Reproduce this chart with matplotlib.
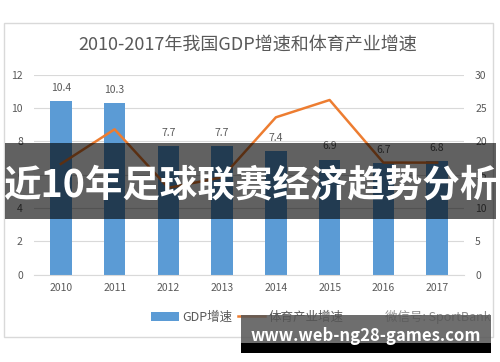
import matplotlib
matplotlib.use('Agg')
import matplotlib.pyplot as plt
from matplotlib.patches import Rectangle, Patch
from matplotlib.lines import Line2D

plt.rcParams['font.family'] = ['Noto Sans CJK SC', 'DejaVu Sans']

years = ['2010', '2011', '2012', '2013', '2014', '2015', '2016', '2017']
gdp_growth = [10.4, 10.3, 7.7, 7.7, 7.4, 6.9, 6.7, 6.8]
sport_growth = [16.6, 21.8, 13.0, 14.6, 23.6, 26.2, 16.8, 16.8]
left_ticks = [0, 2, 4, 6, 8, 10, 12]
right_ticks = [0, 5, 10, 15, 20, 25, 30]

blue = '#5b9bd5'
orange = '#ed7d31'
txt = '#595959'

fig = plt.figure(figsize=(5.0, 3.62), dpi=100)
fig.patch.set_facecolor('white')

# chart frame
fig.add_artist(Rectangle((0.008, 0.069), 0.978, 0.867, transform=fig.transFigure,
                         fill=False, edgecolor='#d9d9d9', linewidth=1.0))

ax = fig.add_axes([0.068, 0.2417, 0.86, 0.552])
ax2 = ax.twinx()

x = list(range(len(years)))
bars = ax.bar(x, gdp_growth, width=0.4, color=blue, zorder=2)
for xi, v in zip(x, gdp_growth):
    ax.text(xi, v + 0.5, str(v), ha='center', va='bottom', fontsize=7.5, color=txt)

ax2.plot(x, sport_growth, color=orange, linewidth=1.8, zorder=3)

ax.set_xlim(-0.5, 7.5)
ax.set_ylim(0, 12)
ax2.set_ylim(0, 30)
ax.set_yticks(left_ticks)
ax2.set_yticks(right_ticks)
ax.set_xticks(x)
ax.set_xticklabels(years)
ax.yaxis.grid(True, color='#d9d9d9', linewidth=0.8, zorder=0)
ax.set_axisbelow(True)
for a in (ax, ax2):
    for s in a.spines.values():
        s.set_visible(False)
    a.tick_params(length=0, labelsize=7.5, colors=txt)
ax.spines['bottom'].set_visible(True)
ax.spines['bottom'].set_color('#d9d9d9')
ax.tick_params(axis='y', pad=8)
ax2.tick_params(axis='y', pad=8)
ax.tick_params(axis='x', pad=6)

fig.text(0.496, 0.876, '2010-2017年我国GDP增速和体育产业增速', ha='center', va='center',
         fontsize=13, color=txt)

handles = [Patch(facecolor=blue, edgecolor='none'), Line2D([], [], color=orange, linewidth=1.8)]
fig.legend(handles, ['GDP增速', '体育产业增速'], loc='center', bbox_to_anchor=(0.495, 0.124),
           ncol=2, frameon=False, fontsize=9, labelcolor=txt, handlelength=2.2,
           handletextpad=0.3, columnspacing=0.4)
fig.text(0.77, 0.124, '微信号: SportBank', ha='left', va='center', fontsize=9, color='#8c8c8c')

# banner overlay
fig.add_artist(Rectangle((0.01, 0.395), 0.982, 0.21, transform=fig.transFigure,
                         facecolor='black', alpha=0.62, edgecolor='none', zorder=10))
fig.text(0.5, 0.49, '近10年足球联赛经济趋势分析', ha='center', va='center', fontsize=27,
         fontweight='bold', color='white', zorder=11)

# watermark
fig.add_artist(Rectangle((0.482, 0.052), 0.5, 0.078, transform=fig.transFigure,
                         facecolor='#555555', alpha=0.85, edgecolor='none', zorder=10))
fig.add_artist(Rectangle((0.482, 0.025), 0.5, 0.028, transform=fig.transFigure,
                         facecolor='black', edgecolor='none', zorder=10))
fig.text(0.732, 0.072, 'www.web-ng28-games.com', ha='center', va='center', fontsize=12,
         fontweight='bold', color='white', zorder=11)

fig.savefig('out.png', dpi=100)
